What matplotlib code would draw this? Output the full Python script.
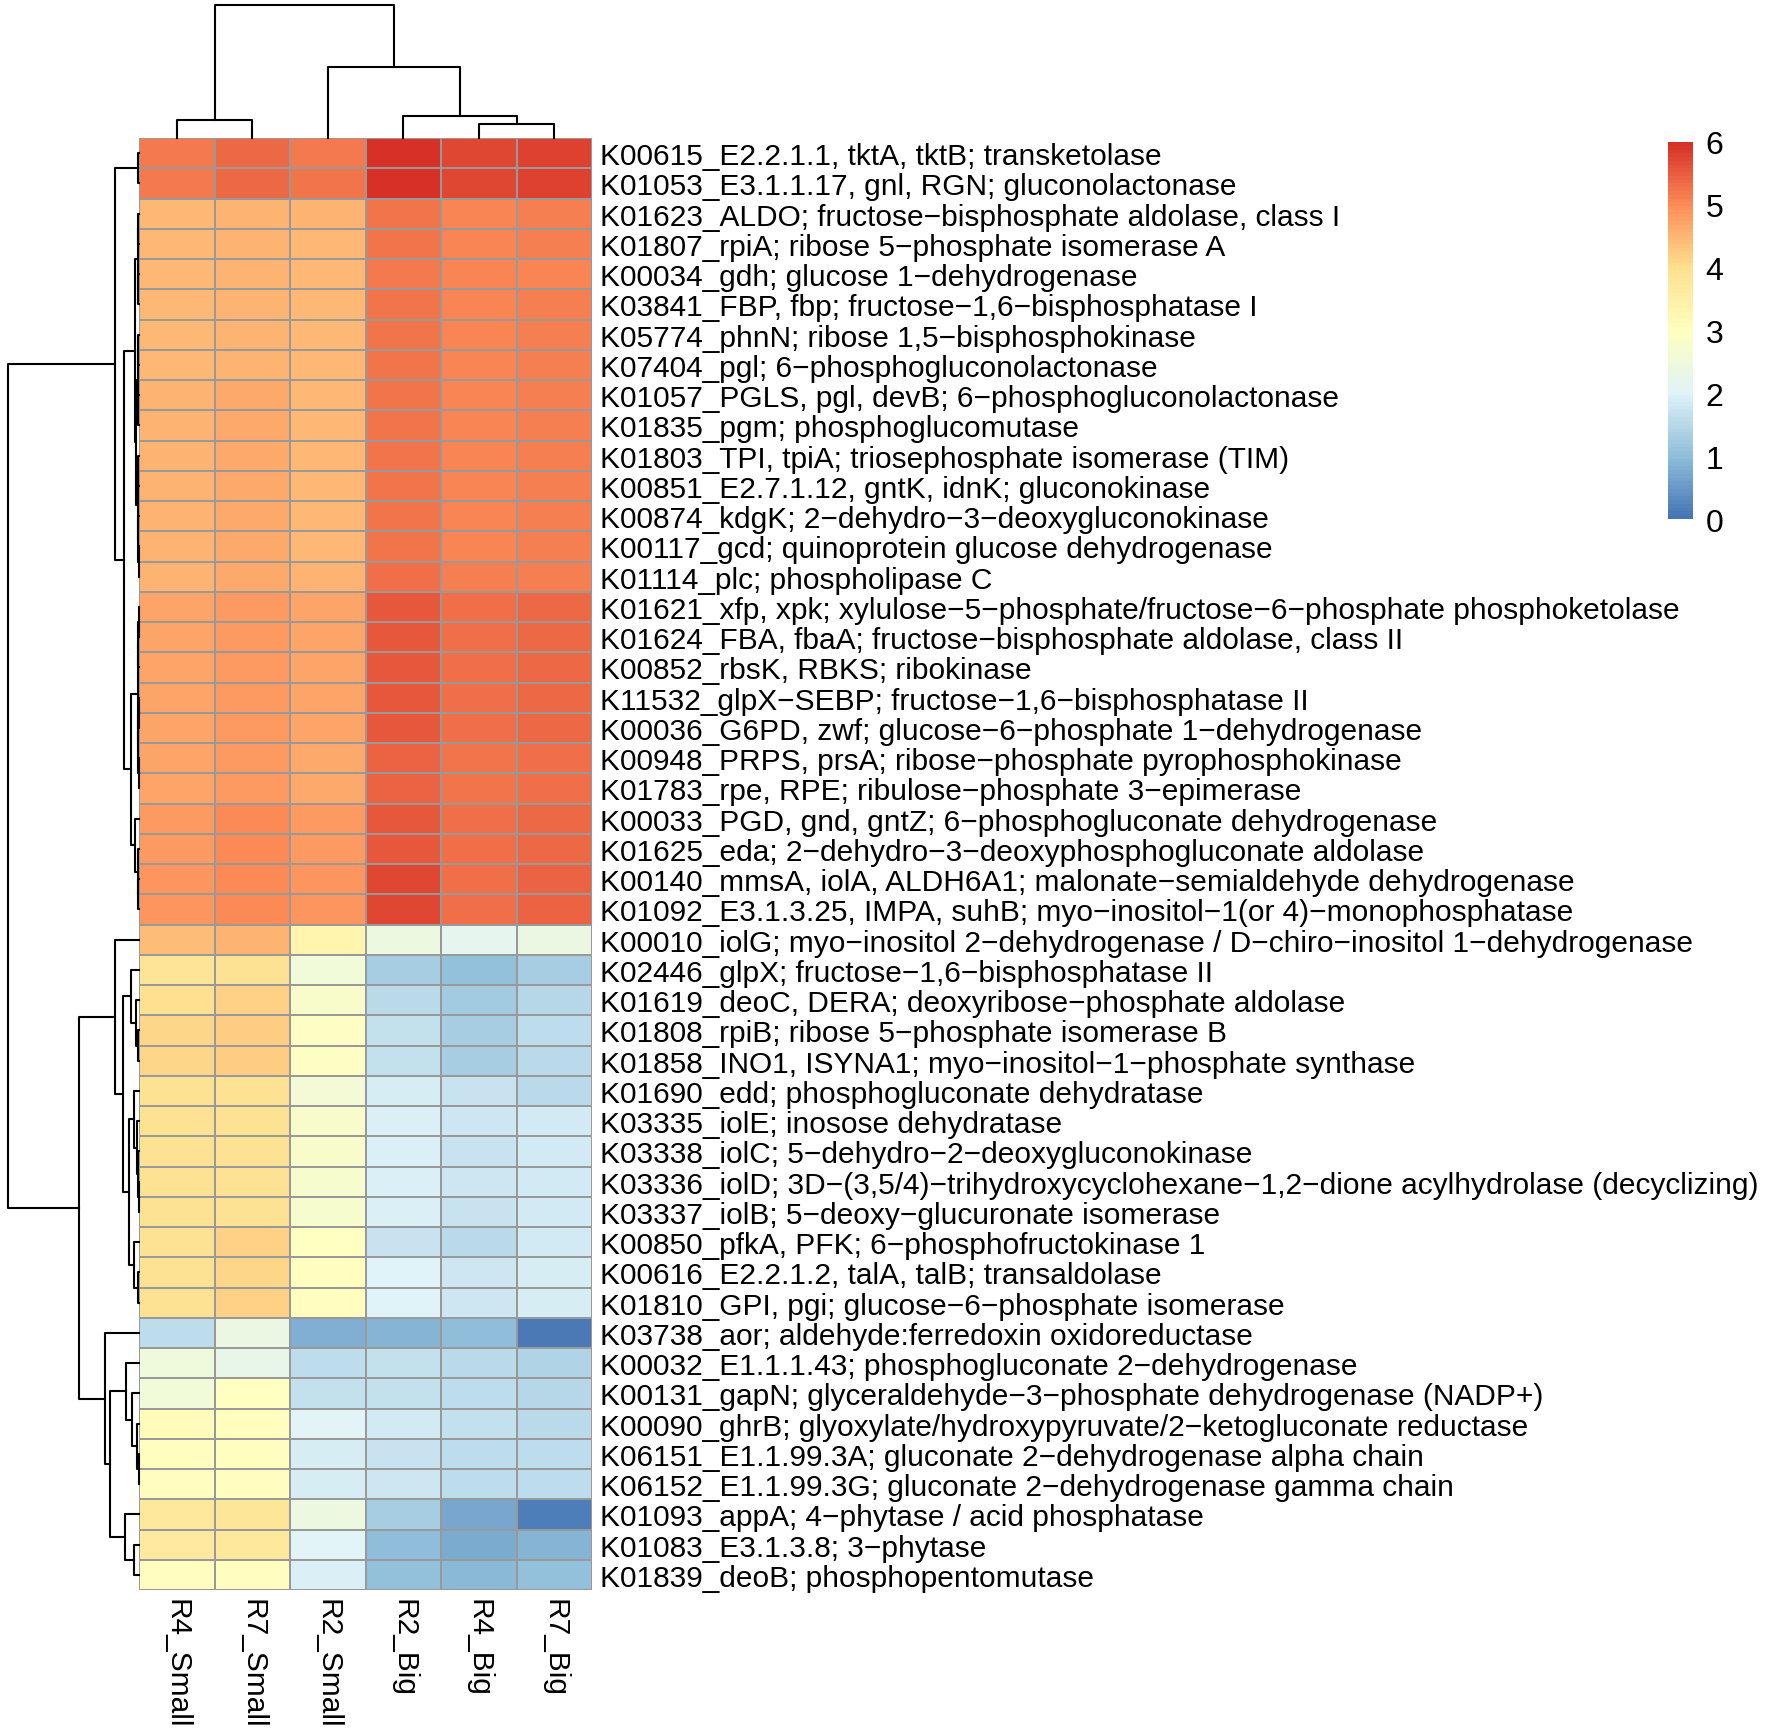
import numpy as np
import matplotlib
matplotlib.use("Agg")
import matplotlib.pyplot as plt
from matplotlib.colors import LinearSegmentedColormap, Normalize
from matplotlib.cm import ScalarMappable

plt.rcParams['font.family'] = ['Liberation Sans', 'DejaVu Sans']

# column order as shown (after clustering)
samples = ["R4_Small", "R7_Small", "R2_Small", "R2_Big", "R4_Big", "R7_Big"]

genes = [
    "K00615_E2.2.1.1, tktA, tktB; transketolase",
    "K01053_E3.1.1.17, gnl, RGN; gluconolactonase",
    "K01623_ALDO; fructose\u2212bisphosphate aldolase, class I",
    "K01807_rpiA; ribose 5\u2212phosphate isomerase A",
    "K00034_gdh; glucose 1\u2212dehydrogenase",
    "K03841_FBP, fbp; fructose\u22121,6\u2212bisphosphatase I",
    "K05774_phnN; ribose 1,5\u2212bisphosphokinase",
    "K07404_pgl; 6\u2212phosphogluconolactonase",
    "K01057_PGLS, pgl, devB; 6\u2212phosphogluconolactonase",
    "K01835_pgm; phosphoglucomutase",
    "K01803_TPI, tpiA; triosephosphate isomerase (TIM)",
    "K00851_E2.7.1.12, gntK, idnK; gluconokinase",
    "K00874_kdgK; 2\u2212dehydro\u22123\u2212deoxygluconokinase",
    "K00117_gcd; quinoprotein glucose dehydrogenase",
    "K01114_plc; phospholipase C",
    "K01621_xfp, xpk; xylulose\u22125\u2212phosphate/fructose\u22126\u2212phosphate phosphoketolase",
    "K01624_FBA, fbaA; fructose\u2212bisphosphate aldolase, class II",
    "K00852_rbsK, RBKS; ribokinase",
    "K11532_glpX\u2212SEBP; fructose\u22121,6\u2212bisphosphatase II",
    "K00036_G6PD, zwf; glucose\u22126\u2212phosphate 1\u2212dehydrogenase",
    "K00948_PRPS, prsA; ribose\u2212phosphate pyrophosphokinase",
    "K01783_rpe, RPE; ribulose\u2212phosphate 3\u2212epimerase",
    "K00033_PGD, gnd, gntZ; 6\u2212phosphogluconate dehydrogenase",
    "K01625_eda; 2\u2212dehydro\u22123\u2212deoxyphosphogluconate aldolase",
    "K00140_mmsA, iolA, ALDH6A1; malonate\u2212semialdehyde dehydrogenase",
    "K01092_E3.1.3.25, IMPA, suhB; myo\u2212inositol\u22121(or 4)\u2212monophosphatase",
    "K00010_iolG; myo\u2212inositol 2\u2212dehydrogenase / D\u2212chiro\u2212inositol 1\u2212dehydrogenase",
    "K02446_glpX; fructose\u22121,6\u2212bisphosphatase II",
    "K01619_deoC, DERA; deoxyribose\u2212phosphate aldolase",
    "K01808_rpiB; ribose 5\u2212phosphate isomerase B",
    "K01858_INO1, ISYNA1; myo\u2212inositol\u22121\u2212phosphate synthase",
    "K01690_edd; phosphogluconate dehydratase",
    "K03335_iolE; inosose dehydratase",
    "K03338_iolC; 5\u2212dehydro\u22122\u2212deoxygluconokinase",
    "K03336_iolD; 3D\u2212(3,5/4)\u2212trihydroxycyclohexane\u22121,2\u2212dione acylhydrolase (decyclizing)",
    "K03337_iolB; 5\u2212deoxy\u2212glucuronate isomerase",
    "K00850_pfkA, PFK; 6\u2212phosphofructokinase 1",
    "K00616_E2.2.1.2, talA, talB; transaldolase",
    "K01810_GPI, pgi; glucose\u22126\u2212phosphate isomerase",
    "K03738_aor; aldehyde:ferredoxin oxidoreductase",
    "K00032_E1.1.1.43; phosphogluconate 2\u2212dehydrogenase",
    "K00131_gapN; glyceraldehyde\u22123\u2212phosphate dehydrogenase (NADP+)",
    "K00090_ghrB; glyoxylate/hydroxypyruvate/2\u2212ketogluconate reductase",
    "K06151_E1.1.99.3A; gluconate 2\u2212dehydrogenase alpha chain",
    "K06152_E1.1.99.3G; gluconate 2\u2212dehydrogenase gamma chain",
    "K01093_appA; 4\u2212phytase / acid phosphatase",
    "K01083_E3.1.3.8; 3\u2212phytase",
    "K01839_deoB; phosphopentomutase",
]

# values (log scale), one list per sample, rows in display order
r4_small = [5.2, 5.2, 4.45, 4.45, 4.45, 4.45, 4.45, 4.45, 4.5, 4.5, 4.5, 4.5, 4.5, 4.5, 4.55,
            4.72, 4.72, 4.72, 4.72, 4.72, 4.7, 4.7, 4.85, 4.85, 4.9, 4.9,
            4.4, 3.85, 4.0, 4.1, 4.1, 3.9, 3.9, 3.9, 3.9, 3.9, 3.95, 3.95, 3.9,
            1.6, 2.5, 2.55, 3.1, 3.02, 3.05, 3.75, 3.7, 3.05]
r7_small = [5.35, 5.35, 4.5, 4.5, 4.52, 4.5, 4.52, 4.52, 4.62, 4.62, 4.62, 4.62, 4.62, 4.62, 4.62,
            4.8, 4.8, 4.82, 4.82, 4.82, 4.8, 4.8, 5.0, 5.0, 5.02, 5.02,
            4.52, 3.93, 4.15, 4.2, 4.2, 3.93, 3.95, 3.95, 3.95, 3.95, 4.15, 4.1, 4.15,
            2.35, 2.25, 2.95, 3.05, 3.04, 3.04, 3.82, 3.75, 3.05]
r2_small = [5.2, 5.22, 4.5, 4.48, 4.48, 4.48, 4.47, 4.47, 4.47, 4.45, 4.45, 4.45, 4.45, 4.45, 4.5,
            4.7, 4.7, 4.7, 4.7, 4.7, 4.68, 4.68, 4.8, 4.85, 4.9, 4.9,
            3.35, 2.55, 2.8, 2.9, 2.9, 2.6, 2.8, 2.8, 2.7, 2.7, 2.95, 3.05, 3.0,
            0.8, 1.6, 1.65, 2.05, 1.9, 1.9, 2.45, 2.05, 1.95]
r2_big = [5.95, 6.0, 5.22, 5.22, 5.2, 5.22, 5.22, 5.22, 5.22, 5.22, 5.25, 5.25, 5.25, 5.25, 5.28,
          5.55, 5.55, 5.55, 5.55, 5.52, 5.45, 5.42, 5.55, 5.55, 5.7, 5.75,
          2.42, 1.29, 1.5, 1.63, 1.62, 1.88, 1.97, 1.95, 1.97, 1.95, 1.7, 2.0, 2.0,
          0.85, 1.65, 1.65, 1.82, 1.74, 1.75, 1.3, 1.0, 1.05]
r4_big = [5.7, 5.72, 5.05, 5.05, 5.05, 5.05, 5.05, 5.05, 5.05, 5.05, 5.05, 5.05, 5.05, 5.08, 5.1,
          5.3, 5.3, 5.3, 5.3, 5.28, 5.25, 5.25, 5.3, 5.3, 5.32, 5.32,
          2.2, 1.04, 1.25, 1.3, 1.3, 1.7, 1.75, 1.72, 1.75, 1.72, 1.5, 1.77, 1.75,
          1.0, 1.55, 1.57, 1.63, 1.6, 1.6, 0.7, 0.74, 0.92]
r7_big = [5.78, 5.8, 5.1, 5.1, 5.08, 5.1, 5.1, 5.1, 5.1, 5.1, 5.12, 5.12, 5.12, 5.15, 5.15,
          5.38, 5.38, 5.38, 5.38, 5.35, 5.3, 5.3, 5.37, 5.37, 5.45, 5.45,
          2.35, 1.29, 1.48, 1.57, 1.55, 1.5, 1.82, 1.8, 1.82, 1.8, 1.85, 1.9, 1.88,
          0.08, 1.42, 1.45, 1.55, 1.56, 1.56, 0.15, 0.87, 1.03]

# dendrograms: (height, left, right), leaves are display positions
col_tree = (133, (17.8, 0, 1), (70.7, 2, (21.9, 3, (14.5, 4, 5))))

row_tree_a = (24, (1.3, 0, 1),
              (14.7,
               (4, (1.5, (0.8, 2, 3), (0.8, 4, 5)),
                (3, (1.2, (0.6, 6, 7), (0.8, 8, 9)),
                 (1.5, (0.8, 10, 11), (1.0, 12, (0.5, 13, 14))))),
               (8, (1.3, (0.8, (0.4, 15, 16), 17), (0.9, (0.5, 18, 19), (0.5, 20, 21))),
                (4, 22, (1.5, 23, (0.7, 24, 25))))))
row_tree_b = (60,
              (24, 26, (16.3, (8, 27, (3, 28, (1.5, 29, 30))),
                        (10.3, (5.3, 31, (2, 32, (1.5, 33, (0.5, 34, 35)))),
                         (5.3, 36, (1.3, 37, 38))))),
              (33.7, 39, (28.7, (13, 40, (7, 41, (2, 42, (0.5, 43, 44)))),
                          (14, 45, (5.3, 46, 47)))))
row_tree = (131, row_tree_a, row_tree_b)

palette = ["#4575B4", "#91BFDB", "#E0F3F8", "#FFFFBF", "#FEE090", "#FC8D59", "#D73027"]
cmap = LinearSegmentedColormap.from_list("rdylbu7", palette, N=100)
norm = Normalize(vmin=0, vmax=6)

data = np.column_stack([r4_small, r7_small, r2_small, r2_big, r4_big, r7_big])
n_rows, n_cols = data.shape

W, H = 1772, 1731
fig = plt.figure(figsize=(W / 100, H / 100), dpi=100)


def box(x0, y0, x1, y1):
    # pixel box -> figure fraction
    return [x0 / W, 1 - y1 / H, (x1 - x0) / W, (y1 - y0) / H]


hm_l, hm_r, hm_t, hm_b = 139, 592, 139, 1591
fs = 21.5

ax = fig.add_axes(box(hm_l, hm_t, hm_r, hm_b))
ax.pcolormesh(np.arange(n_cols + 1), np.arange(n_rows + 1), data, cmap=cmap, norm=norm,
              edgecolors="#999999", linewidth=1.2)
ax.set_xlim(0, n_cols)
ax.set_ylim(n_rows, 0)
for s in ax.spines.values():
    s.set_visible(False)
ax.yaxis.tick_right()
ax.set_yticks(np.arange(n_rows) + 0.5)
ax.set_yticklabels(genes, fontsize=fs)
ax.set_xticks(np.arange(n_cols) + 0.5)
ax.set_xticklabels(samples, fontsize=fs, rotation=270, ha="center", va="top")
ax.tick_params(length=0, pad=5.5)


def draw_tree(a, node, rows):
    if isinstance(node, int):
        return node + 0.5, 0.0
    h, left, right = node
    c1, h1 = draw_tree(a, left, rows)
    c2, h2 = draw_tree(a, right, rows)
    if rows:
        a.plot([h1, h, h, h2], [c1, c1, c2, c2], color="black", lw=1.5, clip_on=False)
    else:
        a.plot([c1, c1, c2, c2], [h1, h, h, h2], color="black", lw=1.5, clip_on=False)
    return (c1 + c2) / 2, h


# column dendrogram
axc = fig.add_axes(box(hm_l, 6, hm_r, hm_t))
draw_tree(axc, col_tree, False)
axc.set_xlim(0, n_cols)
axc.set_ylim(0, col_tree[0])
axc.axis("off")

# row dendrogram
axr = fig.add_axes(box(8, hm_t, hm_l, hm_b))
draw_tree(axr, row_tree, True)
axr.set_xlim(row_tree[0], 0)
axr.set_ylim(n_rows, 0)
axr.axis("off")

# colour legend
axl = fig.add_axes(box(1668, 143, 1693, 520))
cb = fig.colorbar(ScalarMappable(norm=norm, cmap=cmap), cax=axl, ticks=range(7))
cb.outline.set_visible(False)
axl.tick_params(length=0, labelsize=fs + 1.5, pad=9)

fig.savefig("out.png", dpi=100)
